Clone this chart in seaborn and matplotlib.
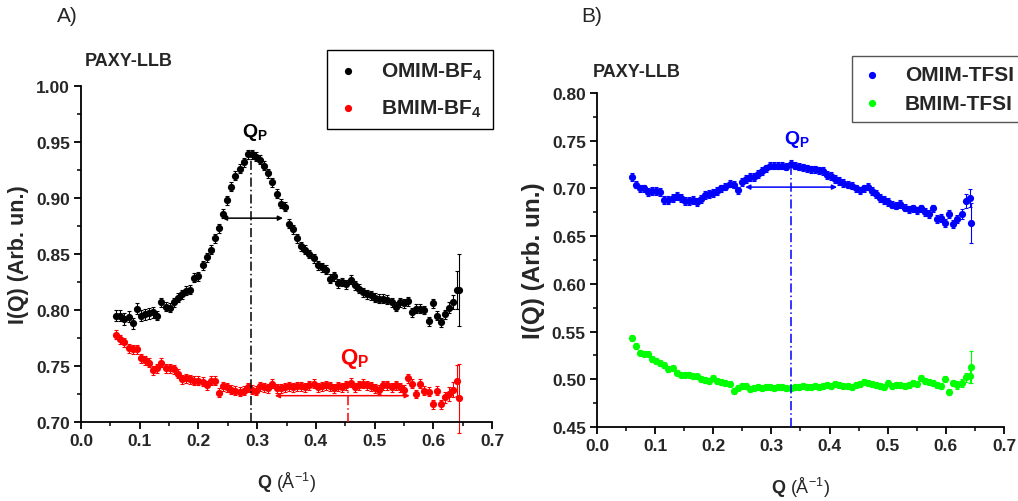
import matplotlib
matplotlib.use("Agg")
import matplotlib.pyplot as plt
import numpy as np
import pandas as pd
import seaborn as sns

# Q grid (1/Angstrom), shared by all four curves
q = [0.060, 0.067, 0.074, 0.081, 0.088, 0.095, 0.102, 0.109, 0.116, 0.123,
     0.130, 0.137, 0.144, 0.151, 0.158, 0.165, 0.172, 0.179, 0.186, 0.193,
     0.200, 0.207, 0.214, 0.221, 0.228, 0.235, 0.242, 0.249, 0.256, 0.263,
     0.270, 0.277, 0.284, 0.291, 0.298, 0.305, 0.312, 0.319, 0.326, 0.333,
     0.340, 0.347, 0.354, 0.361, 0.368, 0.375, 0.382, 0.389, 0.396, 0.403,
     0.410, 0.417, 0.424, 0.431, 0.438, 0.445, 0.452, 0.459, 0.466, 0.473,
     0.480, 0.487, 0.494, 0.501, 0.508, 0.515, 0.522, 0.529, 0.536, 0.543,
     0.550, 0.557, 0.564, 0.571, 0.578, 0.585, 0.592, 0.599, 0.606, 0.613,
     0.620, 0.627, 0.634, 0.641, 0.644]

omim_bf4 = [0.795, 0.795, 0.792, 0.794, 0.788, 0.801, 0.795, 0.796, 0.797, 0.798,
            0.795, 0.807, 0.803, 0.802, 0.807, 0.811, 0.814, 0.817, 0.818, 0.829,
            0.830, 0.840, 0.847, 0.854, 0.864, 0.873, 0.886, 0.898, 0.910, 0.920,
            0.926, 0.932, 0.939, 0.939, 0.937, 0.934, 0.929, 0.922, 0.914, 0.904,
            0.895, 0.892, 0.877, 0.872, 0.864, 0.857, 0.854, 0.850, 0.846, 0.840,
            0.838, 0.836, 0.828, 0.830, 0.824, 0.825, 0.823, 0.827, 0.822, 0.819,
            0.816, 0.814, 0.813, 0.811, 0.810, 0.810, 0.809, 0.807, 0.803, 0.807,
            0.806, 0.808, 0.798, 0.801, 0.801, 0.800, 0.790, 0.806, 0.795, 0.789,
            0.796, 0.802, 0.807, 0.818, 0.818]
omim_bf4_err = [0.005] * 10 + [0.004] * 70 + [0.004, 0.005, 0.006, 0.017, 0.032]

bmim_bf4 = [0.778, 0.774, 0.771, 0.766, 0.765, 0.765, 0.757, 0.755, 0.753, 0.746,
            0.748, 0.753, 0.748, 0.748, 0.747, 0.743, 0.738, 0.739, 0.738, 0.737,
            0.737, 0.736, 0.733, 0.737, 0.737, 0.726, 0.732, 0.731, 0.729, 0.728,
            0.727, 0.728, 0.731, 0.729, 0.728, 0.732, 0.731, 0.730, 0.734, 0.730,
            0.730, 0.731, 0.732, 0.731, 0.732, 0.732, 0.731, 0.733, 0.734, 0.731,
            0.732, 0.733, 0.732, 0.730, 0.732, 0.731, 0.733, 0.735, 0.731, 0.733,
            0.734, 0.733, 0.732, 0.730, 0.729, 0.733, 0.733, 0.731, 0.733, 0.731,
            0.729, 0.739, 0.734, 0.725, 0.734, 0.728, 0.727, 0.716, 0.728, 0.716,
            0.722, 0.725, 0.729, 0.737, 0.721]
bmim_bf4_err = [0.004] * 80 + [0.005, 0.006, 0.007, 0.014, 0.031]

omim_tfsi = [0.712, 0.704, 0.700, 0.700, 0.696, 0.697, 0.697, 0.696, 0.688, 0.688,
             0.690, 0.692, 0.690, 0.687, 0.687, 0.688, 0.686, 0.689, 0.693, 0.694,
             0.695, 0.697, 0.700, 0.702, 0.705, 0.704, 0.698, 0.707, 0.710, 0.712,
             0.712, 0.715, 0.718, 0.721, 0.724, 0.724, 0.724, 0.724, 0.723, 0.726,
             0.724, 0.723, 0.722, 0.721, 0.720, 0.720, 0.719, 0.718, 0.714, 0.713,
             0.710, 0.708, 0.706, 0.704, 0.703, 0.700, 0.698, 0.700, 0.702, 0.697,
             0.694, 0.690, 0.688, 0.686, 0.683, 0.682, 0.684, 0.680, 0.678, 0.679,
             0.677, 0.679, 0.675, 0.673, 0.679, 0.668, 0.669, 0.664, 0.673, 0.663,
             0.668, 0.673, 0.687, 0.690, 0.664]
omim_tfsi_err = [0.004] * 80 + [0.004, 0.005, 0.007, 0.009, 0.021]

bmim_tfsi = [0.543, 0.535, 0.528, 0.527, 0.527, 0.521, 0.519, 0.517, 0.515, 0.511,
             0.512, 0.507, 0.505, 0.505, 0.505, 0.503, 0.503, 0.500, 0.499, 0.498,
             0.501, 0.498, 0.497, 0.496, 0.495, 0.488, 0.491, 0.493, 0.493, 0.490,
             0.491, 0.492, 0.491, 0.492, 0.492, 0.491, 0.492, 0.492, 0.491, 0.491,
             0.492, 0.492, 0.493, 0.492, 0.492, 0.493, 0.492, 0.493, 0.494, 0.493,
             0.495, 0.494, 0.493, 0.493, 0.492, 0.494, 0.495, 0.497, 0.496, 0.495,
             0.494, 0.493, 0.492, 0.496, 0.493, 0.494, 0.494, 0.493, 0.494, 0.496,
             0.495, 0.501, 0.498, 0.497, 0.496, 0.494, 0.493, 0.500, 0.487, 0.496,
             0.494, 0.496, 0.502, 0.503, 0.513]
bmim_tfsi_err = [0.003] * 80 + [0.004, 0.004, 0.005, 0.007, 0.017]

# annotation positions
qp_a = [0.290, 0.455]          # Q_P lines, panel A (black, red)
qp_b = 0.333                   # Q_P line, panel B

sns.set_style("ticks")
plt.rcParams["font.family"] = ["Liberation Sans", "DejaVu Sans"]
plt.rcParams["mathtext.fontset"] = "custom"
plt.rcParams["mathtext.rm"] = "Liberation Sans"
plt.rcParams["mathtext.bf"] = "Liberation Sans:bold"
plt.rcParams["mathtext.it"] = "Liberation Sans:italic"

fig = plt.figure(figsize=(10.18, 5.02), dpi=100)
ax_a = fig.add_axes([0.0796, 0.1574, 0.4037, 0.6693])
ax_b = fig.add_axes([0.5864, 0.1474, 0.3998, 0.6653])


def draw_series(ax, y, err, color, label):
    ax.errorbar(q, y, yerr=err, fmt="none", ecolor=color, elinewidth=0.8,
                capsize=1.6, capthick=0.8, zorder=2, clip_on=False)
    df = pd.DataFrame({"Q": q, "I": y})
    sns.scatterplot(data=df, x="Q", y="I", color=color, s=27, linewidth=0,
                    marker="o", label=label, ax=ax, zorder=3)


def style_axes(ax, ylim, ymajor, ylabel_size):
    ax.set_xlim(0.0, 0.7)
    ax.set_ylim(*ylim)
    ax.set_xticks(np.arange(0, 0.71, 0.1))
    ax.set_xticks(np.arange(0.05, 0.7, 0.1), minor=True)
    ax.set_yticks(ymajor)
    ax.set_yticks(np.array(ymajor[:-1]) + 0.025, minor=True)
    ax.xaxis.set_major_formatter(matplotlib.ticker.FormatStrFormatter("%.1f"))
    ax.yaxis.set_major_formatter(matplotlib.ticker.FormatStrFormatter("%.2f"))
    sns.despine(ax=ax)
    for s in ["left", "bottom"]:
        ax.spines[s].set_linewidth(1.3)
        ax.spines[s].set_color("black")
    ax.tick_params(which="major", direction="out", length=5, width=1.3,
                   labelsize=12.5, pad=3, color="black")
    ax.tick_params(which="minor", direction="out", length=3, width=1.1,
                   color="black")
    for lab in ax.get_xticklabels() + ax.get_yticklabels():
        lab.set_fontweight("bold")
    ax.set_xlabel(r"$\mathbf{Q}$ ($\mathrm{\AA}^{-1}$)", fontsize=13, labelpad=16)
    ax.set_ylabel("I(Q) (Arb. un.)", fontsize=ylabel_size, fontweight="bold",
                  labelpad=5)
    ax.grid(False)


def arrow(ax, x0, x1, y, color):
    ax.annotate("", xy=(x0, y), xytext=(x1, y),
                arrowprops=dict(arrowstyle="<|-|>", color=color, lw=1.1,
                                mutation_scale=7, shrinkA=0, shrinkB=0), zorder=4)


# ---- Panel A ----
draw_series(ax_a, omim_bf4, omim_bf4_err, "black", r"OMIM-BF$_\mathbf{4}$")
draw_series(ax_a, bmim_bf4, bmim_bf4_err, "#ff0000", r"BMIM-BF$_\mathbf{4}$")
style_axes(ax_a, (0.70, 1.00), [0.70, 0.75, 0.80, 0.85, 0.90, 0.95, 1.00], 15.5)
ax_a.plot([qp_a[0], qp_a[0]], [0.70, 0.938], color="black", lw=1.1,
          ls=(0, (6, 2, 1, 2)), zorder=4)
ax_a.plot([qp_a[1], qp_a[1]], [0.70, 0.735], color="#ff0000", lw=1.1,
          ls=(0, (6, 2, 1, 2)), zorder=4)
arrow(ax_a, 0.240, 0.344, 0.882, "black")
arrow(ax_a, 0.330, 0.560, 0.7235, "#ff0000")
ax_a.text(0.275, 0.959, r"$\mathbf{Q_P}$", fontsize=14, color="black",
          ha="left", va="center")
ax_a.text(0.441, 0.757, r"$\mathbf{Q_P}$", fontsize=16, color="#ff0000",
          ha="left", va="center")
leg_a = ax_a.legend(loc="upper left", bbox_to_anchor=(0.3212, 0.8984),
                    bbox_transform=fig.transFigure, borderaxespad=0,
                    fancybox=False, framealpha=1, edgecolor="black",
                    prop={"weight": "bold", "size": 15}, handlelength=1.0,
                    handletextpad=1.1, borderpad=0.5, labelspacing=0.75)
leg_a.get_frame().set_linewidth(1.0)

# ---- Panel B ----
draw_series(ax_b, omim_tfsi, omim_tfsi_err, "#0000ff", "OMIM-TFSI")
draw_series(ax_b, bmim_tfsi, bmim_tfsi_err, "#00ff00", "BMIM-TFSI")
style_axes(ax_b, (0.45, 0.80), [0.45, 0.50, 0.55, 0.60, 0.65, 0.70, 0.75, 0.80], 17.5)
ax_b.plot([qp_b, qp_b], [0.45, 0.726], color="#0000ff", lw=1.1,
          ls=(0, (6, 2, 1, 2)), zorder=4)
arrow(ax_b, 0.255, 0.413, 0.7014, "#0000ff")
ax_b.text(0.322, 0.752, r"$\mathbf{Q_P}$", fontsize=14, color="#0000ff",
          ha="left", va="center")
leg_b = ax_b.legend(loc="upper left", bbox_to_anchor=(0.8369, 0.8865),
                    bbox_transform=fig.transFigure, borderaxespad=0,
                    fancybox=False, framealpha=1, edgecolor="#555555",
                    prop={"weight": "bold", "size": 15}, handlelength=1.0,
                    handletextpad=1.1, borderpad=0.45, labelspacing=0.45)
leg_b.get_frame().set_linewidth(1.0)

# panel tags and instrument labels
fig.text(0.056, 0.968, "A)", fontsize=15, ha="left", va="center")
fig.text(0.571, 0.968, "B)", fontsize=15, ha="left", va="center")
fig.text(0.0835, 0.8765, "PAXY-LLB", fontsize=13, fontweight="bold",
         ha="left", va="center")
fig.text(0.5825, 0.855, "PAXY-LLB", fontsize=13, fontweight="bold",
         ha="left", va="center")

fig.savefig("out.png", dpi=100)
